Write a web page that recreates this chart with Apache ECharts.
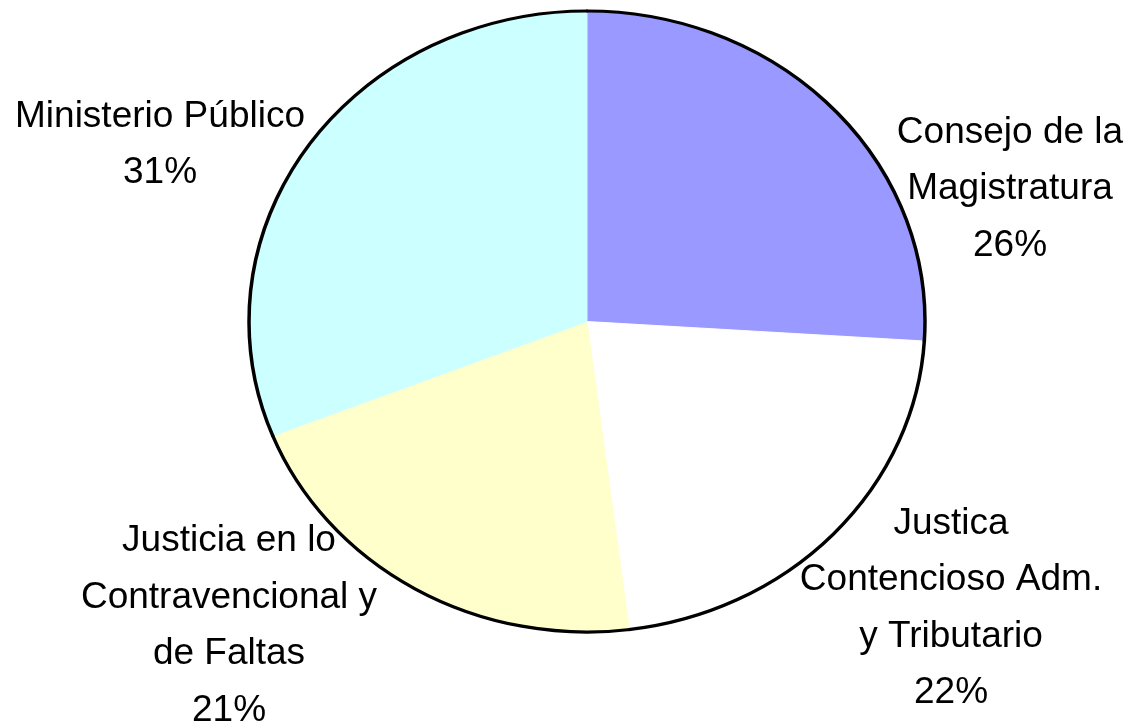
<!DOCTYPE html>
<html>
<head>
<meta charset="utf-8">
<script src="https://cdn.jsdelivr.net/npm/echarts@6/dist/echarts.min.js"></script>
<style>
html,body{margin:0;padding:0;background:#fff;}
#chart{width:1126px;height:722px;}
</style>
</head>
<body>
<div id="chart"></div>
<script>
// ---- data ----
var categories = [
  'Consejo de la\nMagistratura',
  'Justica\nContencioso Adm.\ny Tributario',
  'Justicia en lo\nContravencional y\nde Faltas',
  'Ministerio Público'
];
var shares = [26, 22, 21, 31];

// ---- layout / style (not data) ----
var sliceColors = ['#9999FF', '#FFFFFF', '#FFFFCC', '#CCFFFF'];
var labelAnchors = [[1010, 189], [951, 608.5], [229, 626], [160, 145]];
var center = [587, 321.5];
var radiusX = 338;
var radiusY = 310.5;

var total = shares.reduce(function (a, b) { return a + b; }, 0);

var chart = echarts.init(document.getElementById('chart'), null, {renderer: 'canvas'});

chart.setOption({
  backgroundColor: '#ffffff',
  animation: false,
  series: [{
    type: 'custom',
    coordinateSystem: 'none',
    data: shares.map(function (v, i) { return {name: categories[i], value: v}; }),
    renderItem: function (params, api) {
      var i = params.dataIndex;
      var before = 0;
      for (var k = 0; k < i; k++) before += shares[k];
      var v = api.value(0);
      var a0 = -Math.PI / 2 + 2 * Math.PI * before / total;
      var a1 = -Math.PI / 2 + 2 * Math.PI * (before + v) / total;
      var sy = radiusY / radiusX;
      return {
        type: 'group',
        children: [
          {
            type: 'sector',
            x: center[0], y: center[1], scaleX: 1, scaleY: sy,
            shape: {cx: 0, cy: 0, r0: 0, r: radiusX, startAngle: a0, endAngle: a1, clockwise: true},
            style: {fill: sliceColors[i], stroke: sliceColors[i], lineWidth: 1},
            z2: 1
          },
          {
            type: 'arc',
            x: center[0], y: center[1], scaleX: 1, scaleY: sy,
            shape: {cx: 0, cy: 0, r: radiusX, startAngle: a0 - 0.002, endAngle: a1 + 0.002, clockwise: true},
            style: {fill: null, stroke: '#000000', lineWidth: 3.5},
            z2: 5
          },
          {
            type: 'text',
            x: labelAnchors[i][0], y: labelAnchors[i][1],
            style: {
              text: categories[i] + '\n' + v + '%',
              fill: '#000000',
              font: '37px "Liberation Sans", Arial, sans-serif',
              fontSize: 37,
              fontFamily: '"Liberation Sans", Arial, sans-serif',
              lineHeight: 56.5,
              align: 'center',
              verticalAlign: 'middle'
            },
            z2: 10
          }
        ]
      };
    }
  }]
});
</script>
</body>
</html>
